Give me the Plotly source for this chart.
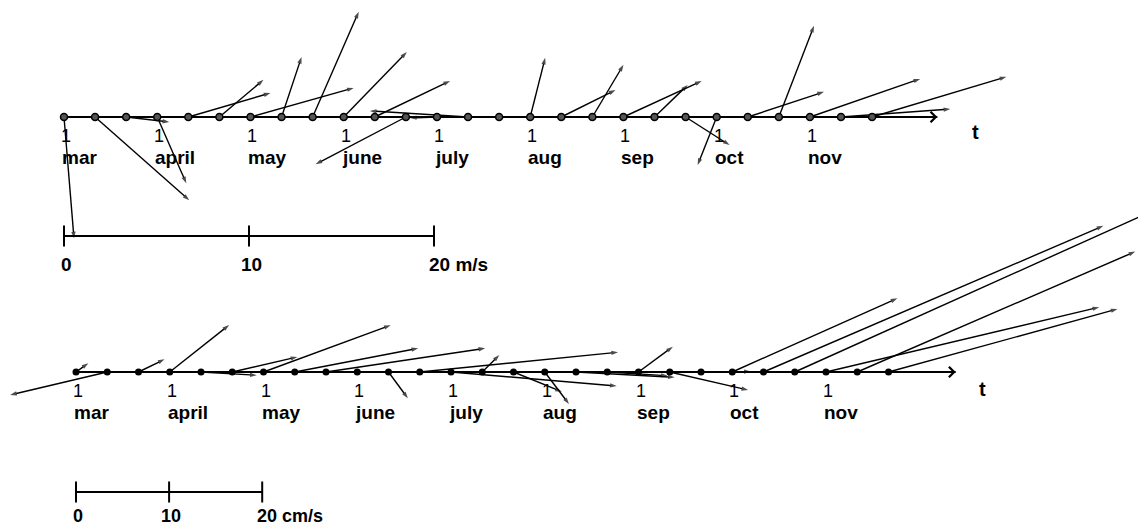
import plotly.graph_objects as go

# ---------------- data ----------------
months = ["mar", "april", "may", "june", "july", "aug", "sep", "oct", "nov"]
month_day = ["1"] * 9
month_dekad = [0, 3, 6, 9, 12, 15, 18, 21, 24]      # dekad index of the 1st of each month
dekads = list(range(27))                              # 10-day samples, 1 mar ... late nov

# wind (m/s), east / north components per dekad
wind_u = [0.54, 5.09, 2.33, 1.57, 4.44, 2.38, 5.58, 1.08, 2.49, 3.41, 4.07, -4.88, -1.46, -5.31,
          0.0, 0.81, 2.93, 1.68, 4.23, 1.79, 2.38, -1.03, 4.12, 1.90, 5.96, 5.91, 7.26]
wind_v = [-6.56, -4.50, -0.27, -3.58, 1.30, 2.01, 1.57, 3.25, 5.69, 3.52, 1.95, -2.55, -0.05, 0.33,
          0.0, 3.20, 1.46, 2.82, 1.95, 1.73, -1.52, -2.60, 1.36, 4.93, 2.06, 0.43, 2.17]

# current (cm/s), east / north components per dekad
curr_u = [1.32, -10.43, 2.80, 6.38, 5.98, 6.99, 13.66, 13.26, 17.10, 0.0, 2.08, 21.30, 17.80, 1.83,
          5.20, 2.60, 10.60, 6.50, 3.69, 8.42, 5.34, 17.74, 36.50, 39.10, 29.35, 29.86, 24.60]
curr_v = [0.94, -2.47, 1.37, 5.05, -0.35, 1.61, 5.02, 2.55, 2.55, 0.0, -2.83, 2.12, -1.50, 1.83,
          -2.12, -3.44, -0.57, -0.40, 2.72, -1.94, 0.05, 7.92, 15.70, 17.60, 6.96, 12.94, 6.77]

wind_scale = [0, 10, 20]
wind_scale_labels = ["0", "10", "20 m/s"]
curr_scale = [0, 10, 20]
curr_scale_labels = ["0", "10", "20 cm/s"]

# ---------------- layout constants (pixels) ----------------
W, H = 1138, 529
TOP = dict(px=18.5, dek=31.08, x0=64, y0=117, bar=236, axis_end=28.1, t_pos=29.34, t_shift=-15,
           dot_color="#555555", dot_line=1.5, lab_shift=-28, lab_size=19)
BOT = dict(px=9.31, dek=31.25, x0=76, y0=372, bar=492, axis_end=28.15, t_pos=29.0, t_shift=-17,
           dot_color="#000000", dot_line=0, lab_shift=-24, lab_size=18)

FONT = "Liberation Sans, Arial, sans-serif"

fig = go.Figure()
annotations = []


def panel(cfg, u, v, scale_vals, scale_labels, xr, yr):
    px = cfg["px"]
    step = cfg["dek"] / px                 # one dekad expressed in speed units
    tx = [i * step for i in dekads]

    # time axis line
    fig.add_trace(go.Scatter(x=[0, cfg["axis_end"] * step], y=[0, 0], xaxis=xr, yaxis=yr,
                             mode="lines", line=dict(color="black", width=2),
                             hoverinfo="skip", showlegend=False))
    # axis arrowhead
    annotations.append(dict(x=cfg["axis_end"] * step, y=0, ax=(cfg["axis_end"] - 0.6) * step, ay=0,
                            xref=xr, yref=yr, axref=xr, ayref=yr, text="", showarrow=True,
                            arrowhead=4, arrowsize=1.0, arrowwidth=2, arrowcolor="black",
                            standoff=0, startstandoff=0))

    # vectors (shafts + heads)
    xs, ys, syms, sizes = [], [], [], []
    for t, uu, vv in zip(tx, u, v):
        if uu == 0 and vv == 0:
            continue
        xs += [t, t + uu, None]
        ys += [0, vv, None]
        syms += ["circle", "arrow", "circle"]
        sizes += [0, 7, 0]
    fig.add_trace(go.Scatter(x=xs, y=ys, xaxis=xr, yaxis=yr, mode="lines+markers",
                             line=dict(color="black", width=1.4),
                             marker=dict(symbol=syms, size=sizes, angleref="previous",
                                         color="black", line=dict(width=0)),
                             hoverinfo="skip", showlegend=False, cliponaxis=True))

    # sample dots
    fig.add_trace(go.Scatter(x=tx, y=[0] * len(tx), xaxis=xr, yaxis=yr, mode="markers",
                             marker=dict(size=7, color=cfg["dot_color"],
                                         line=dict(color="black", width=cfg["dot_line"])),
                             hoverinfo="skip", showlegend=False))

    # month labels
    for k, m, d in zip(month_dekad, months, month_day):
        annotations.append(dict(x=tx[k], y=0, xref=xr, yref=yr, text=d, showarrow=False,
                                xanchor="center", yanchor="middle", xshift=2, yshift=-19,
                                font=dict(family=FONT, size=18, color="black")))
        annotations.append(dict(x=tx[k], y=0, xref=xr, yref=yr, text="<b>%s</b>" % m, showarrow=False,
                                xanchor="left", yanchor="middle", xshift=-4, yshift=-40,
                                font=dict(family=FONT, size=19, color="black")))
    # t label
    annotations.append(dict(x=cfg["t_pos"] * step, y=0, xref=xr, yref=yr, text="<b>t</b>",
                            showarrow=False, xanchor="center", yanchor="middle",
                            yshift=cfg["t_shift"], font=dict(family=FONT, size=20, color="black")))

    # speed scale bar
    ybar = -(cfg["bar"] - cfg["y0"]) / px
    fig.add_trace(go.Scatter(x=[scale_vals[0], scale_vals[-1]], y=[ybar, ybar], xaxis=xr, yaxis=yr,
                             mode="lines", line=dict(color="black", width=2),
                             hoverinfo="skip", showlegend=False))
    fig.add_trace(go.Scatter(x=scale_vals, y=[ybar] * len(scale_vals), xaxis=xr, yaxis=yr,
                             mode="markers", marker=dict(symbol="line-ns", size=15,
                                                         line=dict(color="black", width=2)),
                             hoverinfo="skip", showlegend=False))
    for sv, sl in zip(scale_vals, scale_labels):
        last = sv == scale_vals[-1]
        annotations.append(dict(x=sv, y=ybar, xref=xr, yref=yr, text="<b>%s</b>" % sl,
                                showarrow=False, xanchor="left" if last else "center",
                                yanchor="middle", xshift=-7 if last else 2, yshift=cfg["lab_shift"],
                                font=dict(family=FONT, size=cfg["lab_size"], color="black")))

    xrange = [-cfg["x0"] / px, (W - cfg["x0"]) / px]
    yrange = [-(H - cfg["y0"]) / px, cfg["y0"] / px]
    return xrange, yrange


xr1, yr1 = panel(TOP, wind_u, wind_v, wind_scale, wind_scale_labels, "x", "y")
xr2, yr2 = panel(BOT, curr_u, curr_v, curr_scale, curr_scale_labels, "x2", "y2")

hidden = dict(visible=False, showgrid=False, zeroline=False, fixedrange=True)
fig.update_layout(
    width=W, height=H,
    margin=dict(l=0, r=0, t=0, b=0, pad=0),
    paper_bgcolor="white", plot_bgcolor="white",
    showlegend=False,
    xaxis=dict(range=xr1, domain=[0, 1], **hidden),
    yaxis=dict(range=yr1, domain=[0, 1], **hidden),
    xaxis2=dict(range=xr2, domain=[0, 1], overlaying="x", **hidden),
    yaxis2=dict(range=yr2, domain=[0, 1], overlaying="y", **hidden),
    annotations=annotations,
)

fig.write_html("out.html", config={"displayModeBar": False},
               post_script="document.body.style.margin='0';document.body.style.overflow='hidden';")
